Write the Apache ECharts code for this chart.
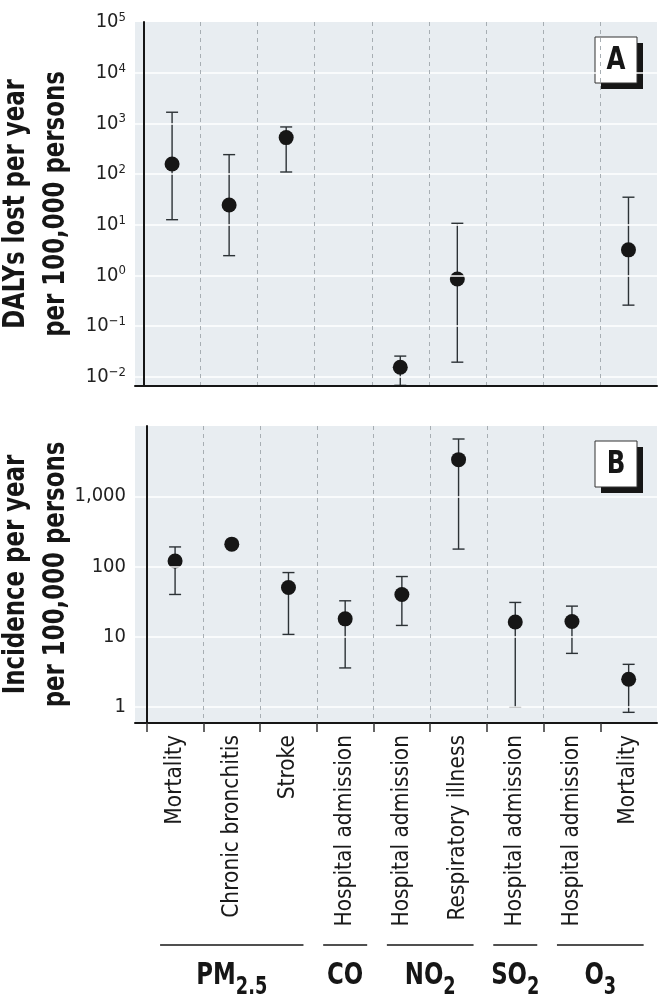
<!DOCTYPE html>
<html>
<head>
<meta charset="utf-8">
<script src="https://cdn.jsdelivr.net/npm/echarts@6.0.0/dist/echarts.min.js"></script>
<style>
  html, body { margin: 0; padding: 0; background: #ffffff; }
  #chart { width: 659px; height: 1003px; }
</style>
</head>
<body>
<div id="chart"></div>
<script>
// ---------------- data ----------------
const categories = ['Mortality', 'Chronic bronchitis', 'Stroke', 'Hospital admission',
  'Hospital admission', 'Respiratory illness', 'Hospital admission', 'Hospital admission', 'Mortality'];

// Panel A: DALYs lost per year per 100,000 persons
const dalyMid  = [158, 24.6, 524, null, 0.0155, 0.85, null, null, 3.2];
const dalyLow  = [12.6, 2.46, 110, null, 0.0068, 0.0195, null, null, 0.26];
const dalyHigh = [1660, 242, 851, null, 0.0257, 10.7, null, null, 35];

// Panel B: Incidence per year per 100,000 persons
const incMid  = [120, 208, 50.3, 18, 40, 3320, 16.2, 16.5, 2.48];
const incLow  = [40, null, 10.8, 3.6, 14.5, 177, 0.99, 5.8, 0.84];
const incHigh = [190, null, 82, 32.5, 72, 6530, 30.8, 27.3, 4.05];

const incTickLabels = ['1', '10', '100', '1,000'];

// Axis titles and panel letters
const yTitles = ['DALYs lost per year\nper 100,000 persons', 'Incidence per year\nper 100,000 persons'];
const panelLetters = ['A', 'B'];

// Pollutant groups
const groupNames = ['PM', 'CO', 'NO', 'SO', 'O'];
const groupSubs  = ['2.5', '', '2', '2', '3'];
const groupStart = [0, 3, 4, 6, 7];
const groupEnd   = [2, 3, 5, 6, 8];

// ---------------- helpers ----------------
const COND = "'DejaVu Sans Condensed', 'Liberation Sans Narrow', 'Liberation Sans', sans-serif";
const INK = '#161616';
const BG = '#e8edf1';

function pointData(mid) {
  const out = [];
  mid.forEach((v, i) => { if (v != null) out.push([i + 0.5, v]); });
  return out;
}
function barData(lo, hi) {
  const out = [];
  lo.forEach((v, i) => { if (v != null && hi[i] != null) out.push([i + 0.5, v, hi[i]]); });
  return out;
}
function powLabel(v) {
  const e = Math.log10(v), r = Math.round(e);
  if (Math.abs(e - r) > 1e-6) return '';
  const s = r < 0 ? '\u2212' + (-r) : String(r);
  return '{b|10}{s|' + s + '}';
}
function incLabel(v) {
  const e = Math.log10(v), r = Math.round(e);
  if (Math.abs(e - r) > 1e-6 || r < 0 || r >= incTickLabels.length) return '';
  return incTickLabels[r];
}
function renderErr(params, api) {
  const x = api.value(0), lo = api.value(1), hi = api.value(2);
  const pl = api.coord([x, lo]), ph = api.coord([x, hi]);
  const hw = 6;
  const st = { stroke: '#2c3236', lineWidth: 1.4 };
  return {
    type: 'group',
    children: [
      { type: 'line', shape: { x1: ph[0], y1: ph[1], x2: pl[0], y2: pl[1] }, style: st },
      { type: 'line', shape: { x1: ph[0] - hw, y1: ph[1], x2: ph[0] + hw, y2: ph[1] }, style: st },
      { type: 'line', shape: { x1: pl[0] - hw, y1: pl[1], x2: pl[0] + hw, y2: pl[1] }, style: st }
    ]
  };
}

const chart = echarts.init(document.getElementById('chart'), null, { renderer: 'canvas' });

const xSplit = { show: true, showMinLine: false, showMaxLine: false,
  lineStyle: { color: '#a7aeb3', type: [4, 4], width: 1 } };
const ySplit = { show: true, showMinLine: false, showMaxLine: false,
  lineStyle: { color: '#ffffff', width: 1.5 } };

const option = {
  animation: false,
  backgroundColor: '#ffffff',
  grid: [
    { left: 135, top: 22, width: 522, height: 364, show: true, backgroundColor: BG, borderWidth: 0,
      containLabel: false, outerBoundsMode: 'none' },
    { left: 135, top: 426, width: 522, height: 297, show: true, backgroundColor: BG, borderWidth: 0,
      containLabel: false, outerBoundsMode: 'none' }
  ],
  xAxis: [
    {
      gridIndex: 0, type: 'value', min: -0.15, max: 9, splitNumber: 9, minInterval: 1, maxInterval: 1,
      z: 5,
      axisLine: { show: true, onZero: false, lineStyle: { color: INK, width: 2 } },
      axisTick: { show: false }, axisLabel: { show: false },
      splitLine: xSplit
    },
    {
      gridIndex: 1, type: 'value', min: -0.207, max: 9, splitNumber: 9, minInterval: 1, maxInterval: 1,
      z: 5,
      axisLine: { show: true, onZero: false, lineStyle: { color: INK, width: 2 } },
      axisTick: { show: true, length: 9, lineStyle: { color: '#333', width: 1.5 },
        customValues: [0, 1, 2, 3, 4, 5, 6, 7, 8] },
      axisLabel: {
        show: true, rotate: 90, margin: 12,
        customValues: categories.map((c, i) => i + 0.5),
        formatter: v => categories[Math.round(v - 0.5)] || '',
        fontFamily: COND, fontSize: 22.5, color: '#1a1a1a'
      },
      splitLine: xSplit
    }
  ],
  yAxis: [
    {
      gridIndex: 0, type: 'log', logBase: 10, min: Math.pow(10, -2.18), max: 1e5,
      z: 5,
      axisLine: { show: true, lineStyle: { color: INK, width: 2 } },
      axisTick: { show: false },
      axisLabel: {
        margin: 9, formatter: powLabel, color: '#222',
        rich: {
          b: { fontFamily: COND, fontSize: 20, lineHeight: 22, color: '#222' },
          s: { fontFamily: COND, fontSize: 13, lineHeight: 11, verticalAlign: 'top', color: '#222' }
        }
      },
      splitLine: ySplit,
      minorTick: { show: false }
    },
    {
      gridIndex: 1, type: 'log', logBase: 10, min: Math.pow(10, -0.2275), max: 1e4,
      z: 5,
      axisLine: { show: true, lineStyle: { color: INK, width: 2 } },
      axisTick: { show: false },
      axisLabel: { margin: 9, formatter: incLabel, fontFamily: COND, fontSize: 20, color: '#222' },
      splitLine: ySplit
    }
  ],
  series: [
    { type: 'custom', xAxisIndex: 0, yAxisIndex: 0, renderItem: renderErr, data: barData(dalyLow, dalyHigh), z: 3 },
    { type: 'scatter', xAxisIndex: 0, yAxisIndex: 0, data: pointData(dalyMid), symbolSize: 15,
      itemStyle: { color: INK, opacity: 1 }, z: 4 },
    { type: 'custom', xAxisIndex: 1, yAxisIndex: 1, renderItem: renderErr, data: barData(incLow, incHigh), z: 3 },
    { type: 'scatter', xAxisIndex: 1, yAxisIndex: 1, data: pointData(incMid), symbolSize: 15,
      itemStyle: { color: INK, opacity: 1 }, z: 4 }
  ]
};
chart.setOption(option);

// ---------- annotations positioned from the grids / axes ----------
function letterBox(letter, x, y) {
  return {
    type: 'group', x: x, y: y, z: 20,
    children: [
      { type: 'rect', shape: { x: 6, y: 6, width: 42, height: 46 }, style: { fill: INK } },
      { type: 'rect', shape: { x: 0, y: 0, width: 42, height: 46 }, style: { fill: '#ffffff', stroke: '#333', lineWidth: 1 } },
      { type: 'text', x: 21, y: 24, scaleX: 0.85, style: { text: letter, fontFamily: COND, fontWeight: 'bold', fontSize: 32,
        fill: INK, align: 'center', verticalAlign: 'middle' } }
    ]
  };
}
function yTitle(text, cy) {
  return {
    type: 'text', x: 36, y: cy, rotation: Math.PI / 2, scaleX: 0.82, z: 20,
    style: { text: text, fontFamily: COND, fontWeight: 'bold', fontSize: 31, lineHeight: 40,
      fill: INK, align: 'center', verticalAlign: 'middle' }
  };
}

const gElems = [];
const rects = [0, 1].map(i => chart.getModel().getComponent('grid', i).coordinateSystem.getRect());
rects.forEach((r, i) => {
  gElems.push(letterBox(panelLetters[i], r.x + r.width - 62, r.y + 15));
  gElems.push(yTitle(yTitles[i], r.y + r.height / 2));
});

const lineY = 945;
groupNames.forEach((nm, k) => {
  const pad = groupStart[k] === groupEnd[k] ? 22 : 15;
  const x1 = chart.convertToPixel({ xAxisIndex: 1 }, groupStart[k] + 0.5) - pad;
  const x2 = chart.convertToPixel({ xAxisIndex: 1 }, groupEnd[k] + 0.5) + pad;
  gElems.push({ type: 'line', shape: { x1: x1, y1: lineY, x2: x2, y2: lineY },
    style: { stroke: INK, lineWidth: 1.5 } });
  gElems.push({
    type: 'text', x: (x1 + x2) / 2, y: 960, scaleX: 0.82,
    style: {
      text: '{m|' + nm + '}' + (groupSubs[k] ? '{s|' + groupSubs[k] + '}' : ''),
      align: 'center', verticalAlign: 'top',
      rich: {
        m: { fontFamily: COND, fontWeight: 'bold', fontSize: 31, lineHeight: 40, verticalAlign: 'top', fill: INK, color: INK },
        s: { fontFamily: COND, fontWeight: 'bold', fontSize: 24, lineHeight: 24, padding: [0, 0, 0, 0],
          verticalAlign: 'bottom', fill: INK, color: INK }
      }
    }
  });
});
chart.setOption({ graphic: { elements: gElems } });
</script>
</body>
</html>
